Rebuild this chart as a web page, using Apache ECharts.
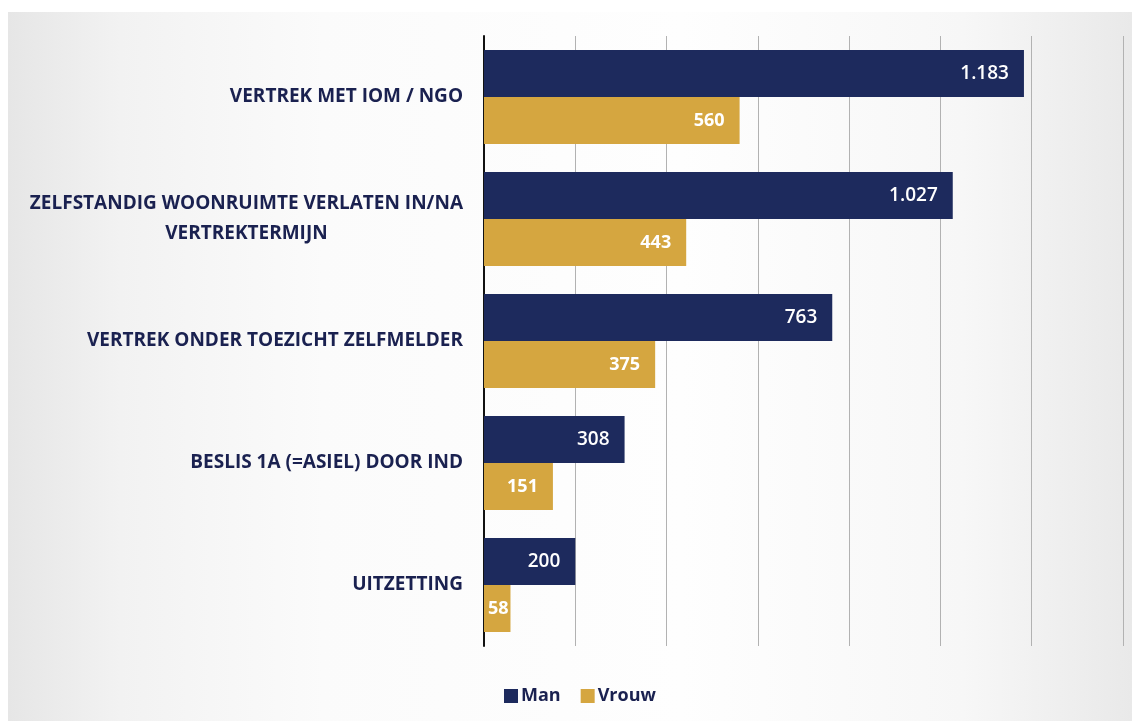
<!DOCTYPE html>
<html>
<head>
<meta charset="utf-8">
<title>Vertrek naar geslacht</title>
<script src="https://cdn.jsdelivr.net/npm/echarts@6/dist/echarts.min.js"></script>
<style>
  html, body { margin: 0; padding: 0; background: #ffffff; }
  #chart {
    position: absolute; left: 0; top: 0; width: 1132px; height: 721px;
  }
  #slide {
    position: absolute; left: 8px; top: 12px; width: 1124px; height: 709px;
    background: linear-gradient(90deg, #e6e6e6 0%, #f2f2f2 10%, #fbfbfb 28%, #fefefe 60%, #f7f7f7 85%, #e9e9e9 100%);
  }
</style>
</head>
<body>
<div id="slide"></div>
<div id="chart"></div>
<script>
// Categories, top to bottom
const categories = [
  'VERTREK MET IOM / NGO',
  'ZELFSTANDIG WOONRUIMTE VERLATEN IN/NA\nVERTREKTERMIJN',
  'VERTREK ONDER TOEZICHT ZELFMELDER',
  'BESLIS 1A (=ASIEL) DOOR IND',
  'UITZETTING'
];
const man = [1183, 1027, 763, 308, 200];
const vrouw = [560, 443, 375, 151, 58];
const seriesNames = ['Man', 'Vrouw'];

const NAVY = '#1d2a5d';
const GOLD = '#d5a640';
const TEXT = '#1a2150';

// Dutch thousands separator
const fmt = v => String(v).replace(/\B(?=(\d{3})+(?!\d))/g, '.');

// Narrow bars keep their label tight against the bar start
function barData(values) {
  return values.map(v => (v < 100 ? { value: v, label: { distance: 2 } } : { value: v }));
}

const chart = echarts.init(document.getElementById('chart'), null, { renderer: 'canvas' });
chart.setOption({
  backgroundColor: 'transparent',
  animation: false,
  grid: { left: 484, right: 9, top: 36, bottom: 75, containLabel: false },
  legend: {
    data: seriesNames,
    left: 499, top: 682,
    itemWidth: 14, itemHeight: 14, itemGap: 20,
    icon: 'rect',
    textStyle: { fontFamily: 'Open Sans', fontWeight: 'bold', fontSize: 18, color: TEXT, padding: [0, 0, 0, -2] }
  },
  xAxis: {
    type: 'value',
    min: 0, max: 1400, interval: 200,
    axisLabel: { show: false },
    axisTick: { show: false },
    axisLine: { show: false },
    splitLine: { show: true, lineStyle: { color: '#b2b2b2', width: 1 } }
  },
  yAxis: {
    type: 'category',
    inverse: true,
    data: categories,
    axisTick: { show: false },
    axisLine: { show: true, lineStyle: { color: '#111111', width: 2 } },
    axisLabel: {
      margin: 21,
      formatter: v => v.split('\n').map(s => '{c|' + s + '}').join('\n'),
      rich: {
        c: { align: 'center', fontFamily: 'Open Sans', fontWeight: 'bold', fontSize: 19, color: TEXT, lineHeight: 30 }
      }
    }
  },
  series: [
    {
      name: 'Man', type: 'bar',
      data: barData(man),
      itemStyle: { color: NAVY },
      barGap: '0%', barCategoryGap: '23%',
      label: {
        show: true, position: 'insideRight', distance: 15,
        formatter: p => fmt(p.value),
        fontFamily: 'Open Sans', fontSize: 19, fontWeight: 600, color: '#ffffff'
      }
    },
    {
      name: 'Vrouw', type: 'bar',
      data: barData(vrouw),
      itemStyle: { color: GOLD },
      barGap: '0%', barCategoryGap: '23%',
      label: {
        show: true, position: 'insideRight', distance: 15,
        formatter: p => fmt(p.value),
        fontFamily: 'Open Sans', fontSize: 18, fontWeight: 'bold', color: '#ffffff'
      }
    }
  ]
});
</script>
</body>
</html>
